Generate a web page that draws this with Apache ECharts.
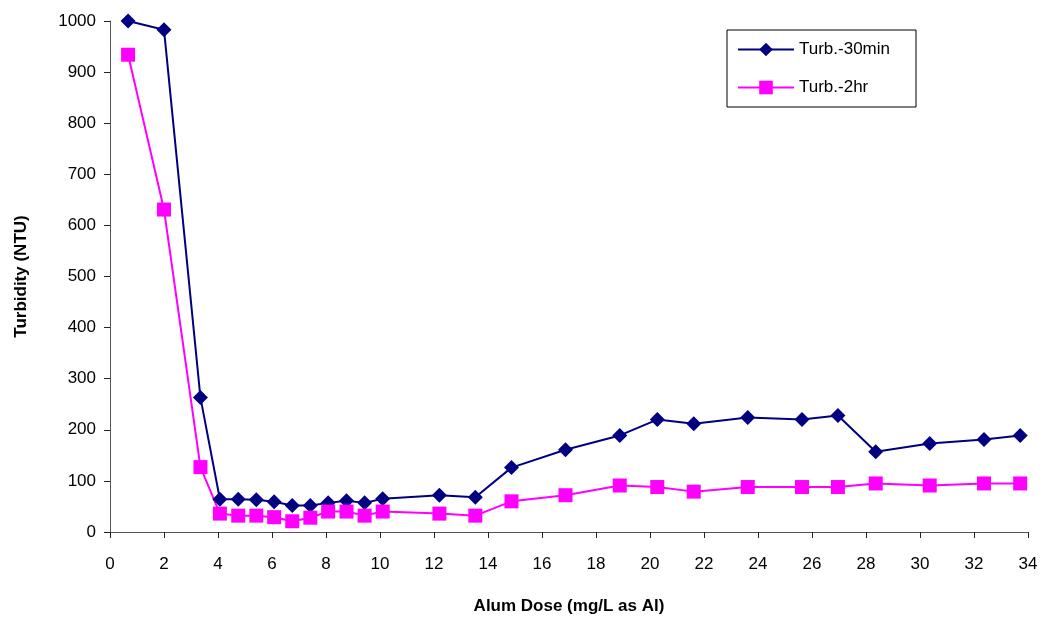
<!DOCTYPE html>
<html>
<head>
<meta charset="utf-8">
<script src="https://cdn.jsdelivr.net/npm/echarts@6/dist/echarts.min.js"></script>
<style>
html,body{margin:0;padding:0;background:#fff;}
#chart{width:1049px;height:619px;}
</style>
</head>
<body>
<div id="chart"></div>
<script>
const doses = [0.67, 2.0, 3.35, 4.07, 4.75, 5.42, 6.08, 6.75, 7.42, 8.08, 8.76, 9.43, 10.1, 12.2, 13.53, 14.87, 16.87, 18.88, 20.27, 21.62, 23.62, 25.63, 26.96, 28.36, 30.36, 32.37, 33.71];
const turb30 = [1000, 983, 263, 64, 64, 63, 59, 52, 52, 57, 61, 57, 65, 72, 68, 126, 161, 189, 220, 212, 224, 220, 228, 157, 173, 181, 189];
const turb2h = [934, 631, 127, 36, 32, 32, 29, 21, 28, 40, 40, 32, 40, 36, 32, 60, 72, 91, 88, 79, 88, 88, 88, 95, 91, 95, 95];
const seriesNames = ['Turb.-30min', 'Turb.-2hr'];
const xTicks = {min: 0, max: 34, interval: 2};
const yTicks = {min: 0, max: 1000, interval: 100};

const zip = (xs, ys) => xs.map((x, i) => [x, ys[i]]);
const chart = echarts.init(document.getElementById('chart'), null, {renderer: 'canvas'});
const font = 'Liberation Sans, Arial, sans-serif';
chart.setOption({
  animation: false,
  backgroundColor: '#fff',
  grid: {left: 110, right: 21, top: 21, bottom: 87, containLabel: false, outerBoundsMode: 'none'},
  xAxis: {
    type: 'value', min: xTicks.min, max: xTicks.max, interval: xTicks.interval,
    name: 'Alum Dose (mg/L as Al)', nameLocation: 'middle', nameGap: 66,
    nameTextStyle: {fontFamily: font, fontSize: 17, fontWeight: 'bold', color: '#000'},
    axisLine: {lineStyle: {color: '#555', width: 1}},
    axisTick: {show: true, inside: false, length: 6, lineStyle: {color: '#222'}},
    axisLabel: {fontFamily: font, fontSize: 17, color: '#000', margin: 24, formatter: v => String(v)},
    splitLine: {show: false}
  },
  yAxis: {
    type: 'value', min: yTicks.min, max: yTicks.max, interval: yTicks.interval,
    name: 'Turbidity (NTU)', nameLocation: 'middle', nameGap: 80, nameRotate: 90,
    nameTextStyle: {fontFamily: font, fontSize: 17, fontWeight: 'bold', color: '#000'},
    axisLine: {show: true, lineStyle: {color: '#555', width: 1}},
    axisTick: {show: true, inside: false, length: 6, lineStyle: {color: '#222'}},
    axisLabel: {fontFamily: font, fontSize: 17, color: '#000', margin: 14, formatter: v => String(v)},
    splitLine: {show: false}
  },
  legend: {
    orient: 'vertical', left: 727, top: 30,
    borderColor: '#000', borderWidth: 1, padding: [11, 26, 11, 10],
    itemGap: 21, itemWidth: 56, itemHeight: 17,
    textStyle: {fontFamily: font, fontSize: 17, color: '#000'},
    data: seriesNames
  },
  series: [
    {
      name: seriesNames[0], type: 'line', data: zip(doses, turb30),
      symbol: 'diamond', symbolSize: 15,
      itemStyle: {color: '#000080'},
      lineStyle: {color: '#000080', width: 2}
    },
    {
      name: seriesNames[1], type: 'line', data: zip(doses, turb2h),
      symbol: 'rect', symbolSize: 14,
      itemStyle: {color: '#FF00FF'},
      lineStyle: {color: '#FF00FF', width: 2}
    }
  ]
});
</script>
</body>
</html>
